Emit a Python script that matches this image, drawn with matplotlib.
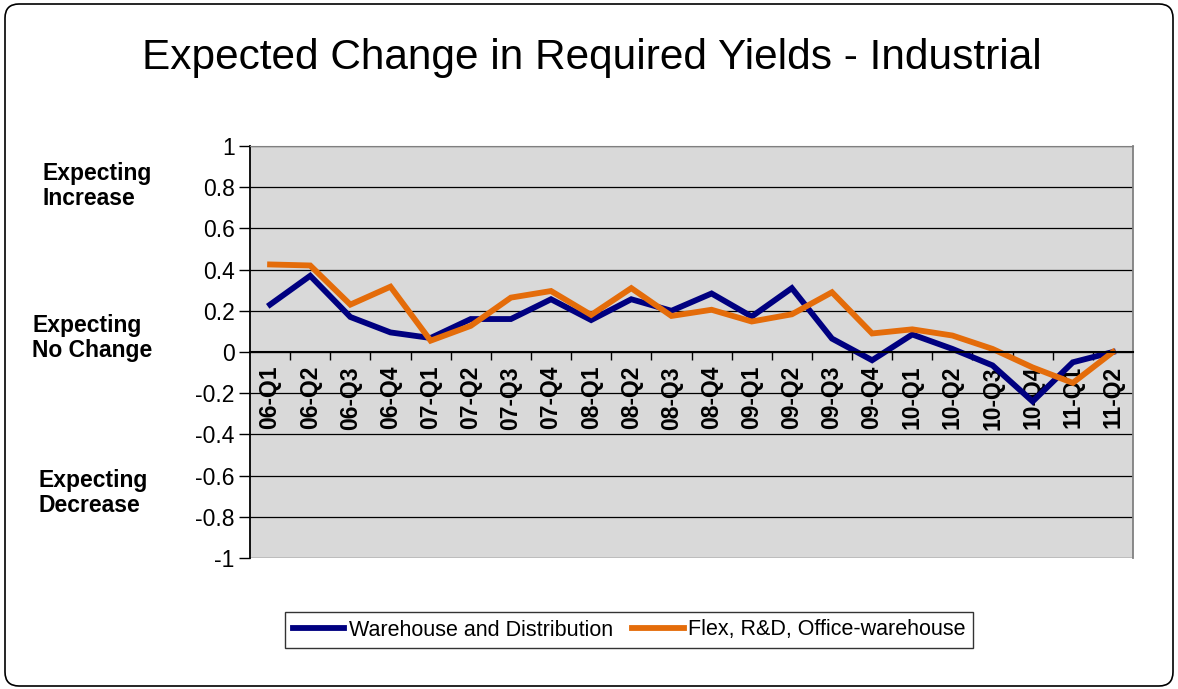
import matplotlib
matplotlib.use("Agg")
import matplotlib.pyplot as plt
from matplotlib.patches import FancyBboxPatch
from matplotlib.transforms import IdentityTransform
from matplotlib.ticker import FixedLocator

plt.rcParams['font.family'] = ['Liberation Sans', 'DejaVu Sans']

quarters = ["06-Q1", "06-Q2", "06-Q3", "06-Q4", "07-Q1", "07-Q2", "07-Q3", "07-Q4",
            "08-Q1", "08-Q2", "08-Q3", "08-Q4", "09-Q1", "09-Q2", "09-Q3", "09-Q4",
            "10-Q1", "10-Q2", "10-Q3", "10-Q4", "11-Q1", "11-Q2"]
warehouse = [0.23, 0.37, 0.17, 0.095, 0.068, 0.16, 0.16, 0.256, 0.155, 0.256, 0.20,
             0.284, 0.172, 0.31, 0.065, -0.04, 0.085, 0.015, -0.065, -0.24, -0.05, 0.0]
flex = [0.425, 0.42, 0.23, 0.317, 0.055, 0.127, 0.264, 0.296, 0.18, 0.31, 0.175,
        0.205, 0.148, 0.183, 0.29, 0.09, 0.11, 0.08, 0.015, -0.075, -0.15, 0.0]
ytick_vals = [-1, -0.8, -0.6, -0.4, -0.2, 0, 0.2, 0.4, 0.6, 0.8, 1]
ytick_text = ["-1", "-0.8", "-0.6", "-0.4", "-0.2", "0", "0.2", "0.4", "0.6", "0.8", "1"]

W, H = 1178, 689
fig = plt.figure(figsize=(W / 100, H / 100), dpi=100)
fig.patch.set_facecolor("white")

# rounded outer border of the chart area
fig.add_artist(FancyBboxPatch((5, 3), 1168, 682, boxstyle="round,pad=0,rounding_size=14",
                              transform=IdentityTransform(), facecolor="none",
                              edgecolor="black", linewidth=1.2))

ax = fig.add_axes([250 / W, 1 - 558 / H, (1133 - 250) / W, (558 - 146) / H])
ax.set_facecolor("#D9D9D9")

x = list(range(len(quarters)))
ax.plot(x, warehouse, color="#000080", linewidth=4.2, label="Warehouse and Distribution",
        solid_joinstyle="miter", zorder=3)
ax.plot(x, flex, color="#E46C0A", linewidth=4.2, label="Flex, R&D, Office-warehouse",
        solid_joinstyle="miter", zorder=4)

ax.set_xlim(-0.5, len(quarters) - 0.5)
ax.set_ylim(-1, 1)

# horizontal gridlines
ax.set_yticks(ytick_vals)
ax.set_yticklabels(ytick_text)
ax.grid(axis="y", color="black", linewidth=0.9, zorder=1)
ax.set_axisbelow(True)
ax.tick_params(axis="y", direction="out", length=8, width=1, pad=3, labelsize=16.5)

# category axis crosses at zero
ax.spines["bottom"].set_position(("data", 0))
ax.spines["bottom"].set_linewidth(1.5)
ax.spines["bottom"].set_zorder(5)
ax.spines["left"].set_linewidth(1.3)
ax.spines["top"].set_color("#808080")
ax.spines["right"].set_color("#808080")
ax.spines["right"].set_linewidth(1.3)
ax.set_xticks(x)
ax.set_xticklabels(quarters, rotation=90, fontweight="bold", fontsize=16.5)
ax.xaxis.set_minor_locator(FixedLocator([i + 0.5 for i in x[:-1]]))
ax.tick_params(axis="x", which="major", length=0, pad=10)
ax.tick_params(axis="x", which="minor", direction="out", length=6, width=1)

fig.text(592 / W, 1 - 58 / H, "Expected Change in Required Yields - Industrial",
         ha="center", va="center", fontsize=30.5)

side = dict(ha="left", va="center", fontsize=16.5, fontweight="bold", linespacing=1.15)
fig.text(43 / W, 1 - 186 / H, "Expecting\nIncrease", **side)
fig.text(32 / W, 1 - 338 / H, "Expecting\nNo Change", **side)
fig.text(38 / W, 1 - 493 / H, "Expecting\nDecrease", **side)

leg = fig.legend(loc="center", bbox_to_anchor=(629 / W, 1 - 630 / H), ncol=2,
                 fontsize=15.5, frameon=True, fancybox=False, handlelength=2.4,
                 handletextpad=0.2, columnspacing=0.9, borderpad=0.35)
leg.get_frame().set_edgecolor("black")
leg.get_frame().set_linewidth(1.0)

fig.savefig("out.png", dpi=100)
